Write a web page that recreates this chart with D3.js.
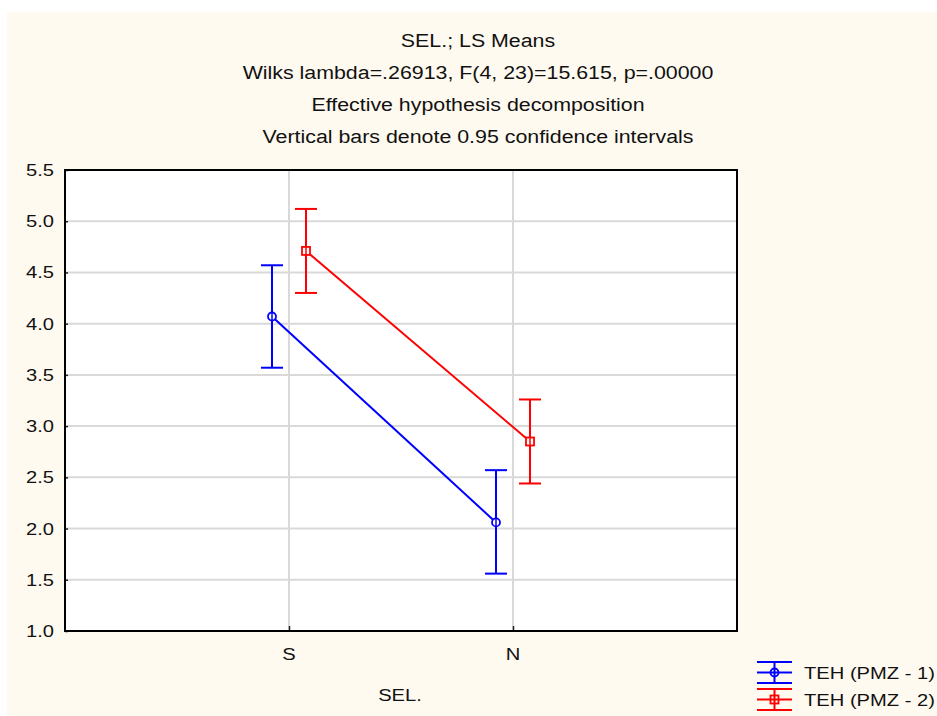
<!DOCTYPE html>
<html>
<head>
<meta charset="utf-8">
<script src="https://cdn.jsdelivr.net/npm/d3@7"></script>
<style>
  html, body { margin: 0; padding: 0; background: #ffffff; }
  svg { display: block; }
  text { font-family: "Liberation Sans", Arial, sans-serif; fill: #111; }
</style>
</head>
<body>
<script>
// ---- data ----
const categories = ["S", "N"];
const seriesNames = ["TEH (PMZ - 1)", "TEH (PMZ - 2)"];
const means1 = [4.07, 2.06];
const lower1 = [3.57, 1.56];
const upper1 = [4.57, 2.57];
const means2 = [4.71, 2.85];
const lower2 = [4.30, 2.44];
const upper2 = [5.12, 3.26];
const yTicks = [1.0, 1.5, 2.0, 2.5, 3.0, 3.5, 4.0, 4.5, 5.0, 5.5];
const titleLines = [
  "SEL.; LS Means",
  "Wilks lambda=.26913, F(4, 23)=15.615, p=.00000",
  "Effective hypothesis decomposition",
  "Vertical bars denote 0.95 confidence intervals"
];
const xTitle = "SEL.";
const colors = ["#0000ff", "#ff0000"];

const series = [
  { name: seriesNames[0], mean: means1, lo: lower1, hi: upper1, color: colors[0], marker: "circle" },
  { name: seriesNames[1], mean: means2, lo: lower2, hi: upper2, color: colors[1], marker: "square" }
];

// ---- layout ----
const W = 937, H = 716;
const plot = { left: 65, right: 737, top: 170, bottom: 631 };
const SX = 1.2; // horizontal stretch of text in the original

const svg = d3.select("body").append("svg").attr("width", W).attr("height", H);

// background
svg.append("rect").attr("x", 0).attr("y", 0).attr("width", W).attr("height", H).attr("fill", "#ffffff");
svg.append("rect").attr("x", 7).attr("y", 12).attr("width", W - 7).attr("height", H - 12).attr("fill", "#fffaf0");

function stretchedText(g, x, y, str, size, anchor) {
  return g.append("text")
    .attr("transform", `translate(${x},${y}) scale(${SX},1)`)
    .attr("text-anchor", anchor || "middle")
    .attr("font-size", size)
    .text(str);
}

// titles
const titleBaselines = [47, 79, 111, 143];
titleLines.forEach((t, i) => stretchedText(svg, 478, titleBaselines[i], t, 17.8, "middle"));

// scales
const x = d3.scalePoint().domain(categories).range([plot.left, plot.right]).padding(1);
const offset = d3.scalePoint().domain([0, 1]).range([-17, 17]);
const y = d3.scaleLinear().domain([1.0, 5.5]).range([plot.bottom, plot.top]);

// plot area
svg.append("rect").attr("x", plot.left).attr("y", plot.top)
  .attr("width", plot.right - plot.left).attr("height", plot.bottom - plot.top)
  .attr("fill", "#ffffff");

// gridlines
const grid = svg.append("g");
grid.selectAll("line.h").data(yTicks.slice(1, -1)).join("line")
  .attr("x1", plot.left).attr("x2", plot.right)
  .attr("y1", d => y(d)).attr("y2", d => y(d))
  .attr("stroke", "#d9d9d9").attr("stroke-width", 2);
grid.selectAll("line.v").data(categories).join("line")
  .attr("x1", d => x(d)).attr("x2", d => x(d))
  .attr("y1", plot.top).attr("y2", plot.bottom)
  .attr("stroke", "#d9d9d9").attr("stroke-width", 2);

// axes (ticks inward)
const yAxis = d3.axisLeft(y).tickValues(yTicks).tickSize(-3).tickFormat(d3.format(".1f")).tickPadding(12);
const yg = svg.append("g").attr("transform", `translate(${plot.left},0)`).call(yAxis);
yg.select(".domain").remove();
yg.selectAll(".tick line").attr("stroke", "#222").attr("stroke-width", 1.5);
yg.selectAll(".tick text").remove();
yTicks.forEach(v => {
  stretchedText(svg, 54, y(v) + 6, d3.format(".1f")(v), 16.8, "end");
});

const xAxis = d3.axisBottom(x).tickSize(-5).tickFormat("");
const xg = svg.append("g").attr("transform", `translate(0,${plot.bottom})`).call(xAxis);
xg.select(".domain").remove();
xg.selectAll(".tick line").attr("stroke", "#222").attr("stroke-width", 1.5);
categories.forEach(c => stretchedText(svg, x(c), 660, c, 16.8, "middle"));

// x axis title
stretchedText(svg, 400, 701, xTitle, 16.8, "middle");

// frame
svg.append("rect").attr("x", plot.left).attr("y", plot.top)
  .attr("width", plot.right - plot.left).attr("height", plot.bottom - plot.top)
  .attr("fill", "none").attr("stroke", "#000").attr("stroke-width", 2);

// series
const capHalf = 11;
series.forEach((s, si) => {
  const g = svg.append("g");
  const px = i => x(categories[i]) + offset(si);
  const idx = categories.map((c, i) => i);
  // connecting line
  g.append("path")
    .attr("d", d3.line().x(i => px(i)).y(i => y(s.mean[i]))(idx))
    .attr("fill", "none").attr("stroke", s.color).attr("stroke-width", 2);
  // error bars
  idx.forEach(i => {
    g.append("line").attr("x1", px(i)).attr("x2", px(i))
      .attr("y1", y(s.lo[i])).attr("y2", y(s.hi[i]))
      .attr("stroke", s.color).attr("stroke-width", 2);
    [s.lo[i], s.hi[i]].forEach(v => {
      g.append("line").attr("x1", px(i) - capHalf).attr("x2", px(i) + capHalf)
        .attr("y1", y(v)).attr("y2", y(v))
        .attr("stroke", s.color).attr("stroke-width", 2);
    });
    if (s.marker === "circle") {
      g.append("circle").attr("cx", px(i)).attr("cy", y(s.mean[i])).attr("r", 4)
        .attr("fill", "#ffffff").attr("stroke", s.color).attr("stroke-width", 1.8);
    } else {
      g.append("rect").attr("x", px(i) - 4).attr("y", y(s.mean[i]) - 4)
        .attr("width", 8).attr("height", 8)
        .attr("fill", "#ffffff").attr("stroke", s.color).attr("stroke-width", 1.8);
    }
    // error bar passes through marker
    g.append("line").attr("x1", px(i)).attr("x2", px(i))
      .attr("y1", y(s.mean[i]) - 4).attr("y2", y(s.mean[i]) + 4)
      .attr("stroke", s.color).attr("stroke-width", 1.5);
  });
});

// legend
const legendRows = [672.5, 699.5];
series.forEach((s, si) => {
  const cy = legendRows[si];
  const g = svg.append("g");
  const x0 = 757, x1 = 792, cx = 774.5;
  [-10.5, 0, 10.5].forEach(dy => {
    g.append("line").attr("x1", x0).attr("x2", x1).attr("y1", cy + dy).attr("y2", cy + dy)
      .attr("stroke", s.color).attr("stroke-width", 2);
  });
  g.append("line").attr("x1", cx).attr("x2", cx).attr("y1", cy - 10.5).attr("y2", cy + 10.5)
    .attr("stroke", s.color).attr("stroke-width", 2);
  if (s.marker === "circle") {
    g.append("circle").attr("cx", cx).attr("cy", cy).attr("r", 4)
      .attr("fill", "none").attr("stroke", s.color).attr("stroke-width", 1.8);
  } else {
    g.append("rect").attr("x", cx - 4).attr("y", cy - 4).attr("width", 8).attr("height", 8)
      .attr("fill", "none").attr("stroke", s.color).attr("stroke-width", 1.8);
  }
  stretchedText(svg, 804, cy + 6, s.name, 16.8, "start");
});
</script>
</body>
</html>
